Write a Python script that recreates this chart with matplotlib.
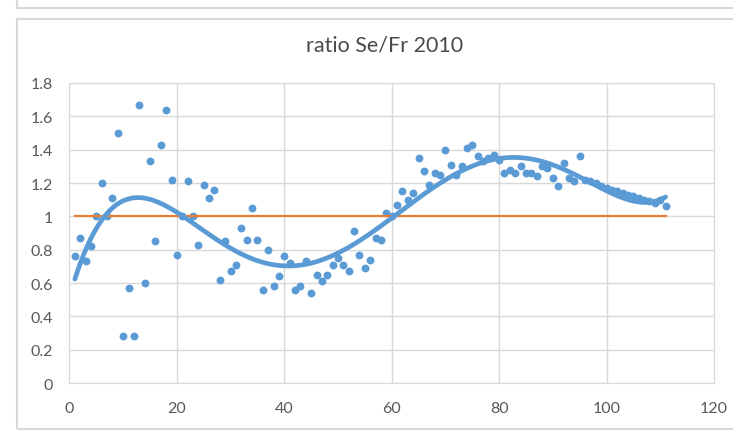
import numpy as np
import matplotlib
matplotlib.use('Agg')
import matplotlib.pyplot as plt
from matplotlib.patches import Rectangle
from matplotlib.lines import Line2D

# ratio values, x = 1..111
ratio = [
    0.76, 0.87, 0.73, 0.82, 1.00, 1.20, 1.00, 1.11, 1.50, 0.28,
    0.57, 0.28, 1.67, 0.60, 1.33, 0.85, 1.43, 1.64, 1.22, 0.77,
    1.00, 1.21, 1.00, 0.83, 1.19, 1.11, 1.16, 0.62, 0.85, 0.67,
    0.71, 0.93, 0.86, 1.05, 0.86, 0.56, 0.80, 0.58, 0.64, 0.76,
    0.72, 0.56, 0.58, 0.73, 0.54, 0.65, 0.61, 0.65, 0.71, 0.75,
    0.71, 0.67, 0.91, 0.77, 0.69, 0.74, 0.87, 0.86, 1.02, 1.00,
    1.07, 1.15, 1.10, 1.14, 1.35, 1.27, 1.19, 1.26, 1.25, 1.40,
    1.31, 1.25, 1.30, 1.41, 1.43, 1.36, 1.33, 1.35, 1.37, 1.34,
    1.26, 1.28, 1.26, 1.30, 1.26, 1.26, 1.24, 1.30, 1.29, 1.23,
    1.18, 1.32, 1.23, 1.21, 1.36, 1.22, 1.21, 1.20, 1.18, 1.17,
    1.16, 1.15, 1.14, 1.13, 1.12, 1.11, 1.10, 1.09, 1.08, 1.10,
    1.06,
]
days = list(range(1, len(ratio) + 1))
reference = [1.0] * len(days)

blue = '#5B9BD5'
orange = '#ED7D31'
grey = '#595959'
grid = '#D9D9D9'

plt.rcParams['font.family'] = ['Lato', 'DejaVu Sans']

fig = plt.figure(figsize=(7.33, 4.35), dpi=100)
ax = fig.add_axes([0.0948, 0.1172, 0.8792, 0.6897])

# polynomial trendline, as Excel does
coef = np.polyfit(days, ratio, 5)
xs = np.linspace(days[0], days[-1], 400)

ax.scatter(days, ratio, s=32, color=blue, zorder=3, linewidths=0)
ax.plot(days, reference, color=orange, lw=1.6, zorder=4)
ax.plot(xs, np.polyval(coef, xs), color=blue, lw=3.4, zorder=5,
        solid_capstyle='round')

ax.set_xlim(0, 120)
ax.set_ylim(0, 1.8)
ax.set_xticks(range(0, 121, 20))
ax.set_yticks(np.arange(0, 1.81, 0.2))
ax.set_yticklabels(['0', '0.2', '0.4', '0.6', '0.8', '1', '1.2', '1.4', '1.6', '1.8'])
ax.grid(True, color=grid, lw=1)
ax.set_axisbelow(True)
for s in ax.spines.values():
    s.set_color(grid)
ax.tick_params(length=0, colors=grey, labelsize=11.5)
ax.tick_params(axis='x', pad=13)
ax.tick_params(axis='y', pad=12)

fig.text(0.525, 0.895, 'ratio Se/Fr 2010', ha='center', va='center',
         fontsize=15.5, color='#4a4a4a')

# chart frame and the edge of the panel above it
fig.patches.append(Rectangle((17 / 733, 1 - 430 / 435), 1, (430 - 20) / 435,
                             transform=fig.transFigure, fill=False,
                             edgecolor=grid, lw=1.5))
fig.lines.append(Line2D([17 / 733, 1], [1 - 9 / 435] * 2,
                        transform=fig.transFigure, color=grid, lw=1.5))
fig.lines.append(Line2D([17 / 733] * 2, [1, 1 - 9 / 435],
                        transform=fig.transFigure, color=grid, lw=1.5))

fig.savefig('out.png', dpi=100)
